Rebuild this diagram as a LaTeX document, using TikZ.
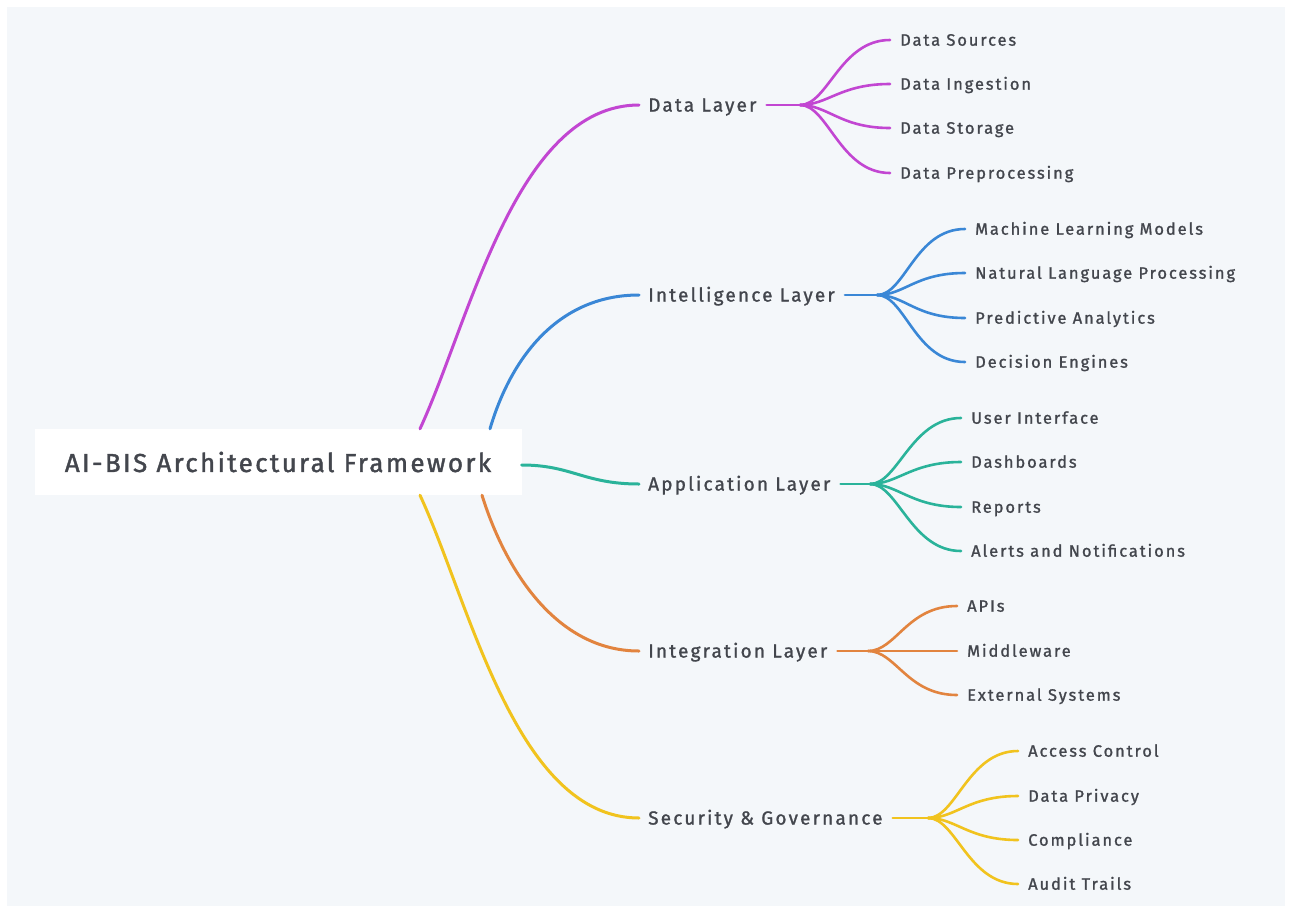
\documentclass[tikz,border=0pt]{standalone}
\usepackage{fontspec}
\setmainfont{Fira Sans}[LetterSpace=11.5, FakeBold=1.2]
\newfontfamily\titlefont{Fira Sans}[LetterSpace=9, FakeBold=1.5]
\definecolor{bg}{HTML}{F4F7FA}
\definecolor{ink}{HTML}{43464D}
\definecolor{dlcol}{HTML}{C246D2}
\definecolor{ilcol}{HTML}{3A87D6}
\definecolor{alcol}{HTML}{2AB39A}
\definecolor{glcol}{HTML}{E2843F}
\definecolor{slcol}{HTML}{F1C31E}

\begin{document}
\begin{tikzpicture}[x=1pt, y=1pt, line cap=round,
  root/.style = {fill=white, minimum width=487pt, minimum height=66pt, text=ink, font=\titlefont\fontsize{26}{30}\selectfont},
  layer/.style = {anchor=west, inner sep=0pt, text height=13.1pt, text depth=0pt, text=ink, font=\fontsize{19}{22}\selectfont},
  leaf/.style = {anchor=west, inner sep=0pt, text height=11.4pt, text depth=0pt, text=ink, font=\fontsize{16.5}{19}\selectfont},
  trunk/.style = {line width=3pt},
  twig/.style = {line width=2.6pt}]
\useasboundingbox (0,0) rectangle (1290,-911);
\fill[white] (0,0) rectangle (1290,-911);
\fill[bg] (7,-7) rectangle (1285,-906);

\node[root] (root) at (278,-462) {AI-BIS Architectural Framework};

\node[layer] (dl) at (648,-105) {Data Layer};
\node[layer] (il) at (648,-295) {Intelligence Layer};
\node[layer] (al) at (648,-484) {Application Layer};
\node[layer] (gl) at (648,-651) {Integration Layer};
\node[layer] (sl) at (648,-818) {Security \& Governance};

\draw[trunk, dlcol] ([xshift=142pt]root.north) .. controls +(50,108) and +(-123,0) .. ([xshift=-9pt]dl.west);
\draw[trunk, ilcol] ([xshift=212pt]root.north) .. controls +(20,68) and +(-83,0) .. ([xshift=-9pt]il.west);
\draw[trunk, alcol] ([yshift=-3pt]root.east) .. controls +(50,0) and +(-55,0) .. ([xshift=-9pt]al.west);
\draw[trunk, glcol] ([xshift=204pt]root.south) .. controls +(23,-74) and +(-83,0) .. ([xshift=-9pt]gl.west);
\draw[trunk, slcol] ([xshift=142pt]root.south) .. controls +(50,-108) and +(-123,0) .. ([xshift=-9pt]sl.west);

% data layer
\coordinate (hd) at (800,-105);
\node[leaf] (d1) at (900,-40) {Data Sources};
\node[leaf] (d2) at (900,-84) {Data Ingestion};
\node[leaf] (d3) at (900,-128) {Data Storage};
\node[leaf] (d4) at (900,-173) {Data Preprocessing};
\draw[twig, dlcol] ([xshift=10pt]dl.east) -- (hd);
\draw[twig, dlcol] (hd) .. controls +(28,0) and +(-50,0) .. ([xshift=-10pt]d1.west);
\draw[twig, dlcol] (hd) .. controls +(28,0) and +(-50,0) .. ([xshift=-10pt]d2.west);
\draw[twig, dlcol] (hd) .. controls +(28,0) and +(-50,0) .. ([xshift=-10pt]d3.west);
\draw[twig, dlcol] (hd) .. controls +(28,0) and +(-50,0) .. ([xshift=-10pt]d4.west);

% intelligence layer
\coordinate (hi) at (877,-295);
\node[leaf] (i1) at (975,-229) {Machine Learning Models};
\node[leaf] (i2) at (975,-273) {Natural Language Processing};
\node[leaf] (i3) at (975,-318) {Predictive Analytics};
\node[leaf] (i4) at (975,-362) {Decision Engines};
\draw[twig, ilcol] ([xshift=10pt]il.east) -- (hi);
\draw[twig, ilcol] (hi) .. controls +(28,0) and +(-50,0) .. ([xshift=-10pt]i1.west);
\draw[twig, ilcol] (hi) .. controls +(28,0) and +(-50,0) .. ([xshift=-10pt]i2.west);
\draw[twig, ilcol] (hi) .. controls +(28,0) and +(-50,0) .. ([xshift=-10pt]i3.west);
\draw[twig, ilcol] (hi) .. controls +(28,0) and +(-50,0) .. ([xshift=-10pt]i4.west);

% application layer
\coordinate (ha) at (870,-484);
\node[leaf] (a1) at (971,-418) {User Interface};
\node[leaf] (a2) at (971,-462) {Dashboards};
\node[leaf] (a3) at (971,-507) {Reports};
\node[leaf] (a4) at (971,-551) {Alerts and Notifications};
\draw[twig, alcol] ([xshift=10pt]al.east) -- (ha);
\draw[twig, alcol] (ha) .. controls +(28,0) and +(-50,0) .. ([xshift=-10pt]a1.west);
\draw[twig, alcol] (ha) .. controls +(28,0) and +(-50,0) .. ([xshift=-10pt]a2.west);
\draw[twig, alcol] (ha) .. controls +(28,0) and +(-50,0) .. ([xshift=-10pt]a3.west);
\draw[twig, alcol] (ha) .. controls +(28,0) and +(-50,0) .. ([xshift=-10pt]a4.west);

% integration layer
\coordinate (hg) at (868,-651);
\node[leaf] (g1) at (967,-606) {APIs};
\node[leaf] (g2) at (967,-651) {Middleware};
\node[leaf] (g3) at (967,-695) {External Systems};
\draw[twig, glcol] ([xshift=10pt]gl.east) -- (hg);
\draw[twig, glcol] (hg) .. controls +(28,0) and +(-50,0) .. ([xshift=-10pt]g1.west);
\draw[twig, glcol] (hg) -- ([xshift=-10pt]g2.west);
\draw[twig, glcol] (hg) .. controls +(28,0) and +(-50,0) .. ([xshift=-10pt]g3.west);

% security and governance
\coordinate (hs) at (928,-818);
\node[leaf] (s1) at (1028,-751) {Access Control};
\node[leaf] (s2) at (1028,-796) {Data Privacy};
\node[leaf] (s3) at (1028,-840) {Compliance};
\node[leaf] (s4) at (1028,-884) {Audit Trails};
\draw[twig, slcol] ([xshift=10pt]sl.east) -- (hs);
\draw[twig, slcol] (hs) .. controls +(28,0) and +(-50,0) .. ([xshift=-10pt]s1.west);
\draw[twig, slcol] (hs) .. controls +(28,0) and +(-50,0) .. ([xshift=-10pt]s2.west);
\draw[twig, slcol] (hs) .. controls +(28,0) and +(-50,0) .. ([xshift=-10pt]s3.west);
\draw[twig, slcol] (hs) .. controls +(28,0) and +(-50,0) .. ([xshift=-10pt]s4.west);
\end{tikzpicture}
\end{document}
